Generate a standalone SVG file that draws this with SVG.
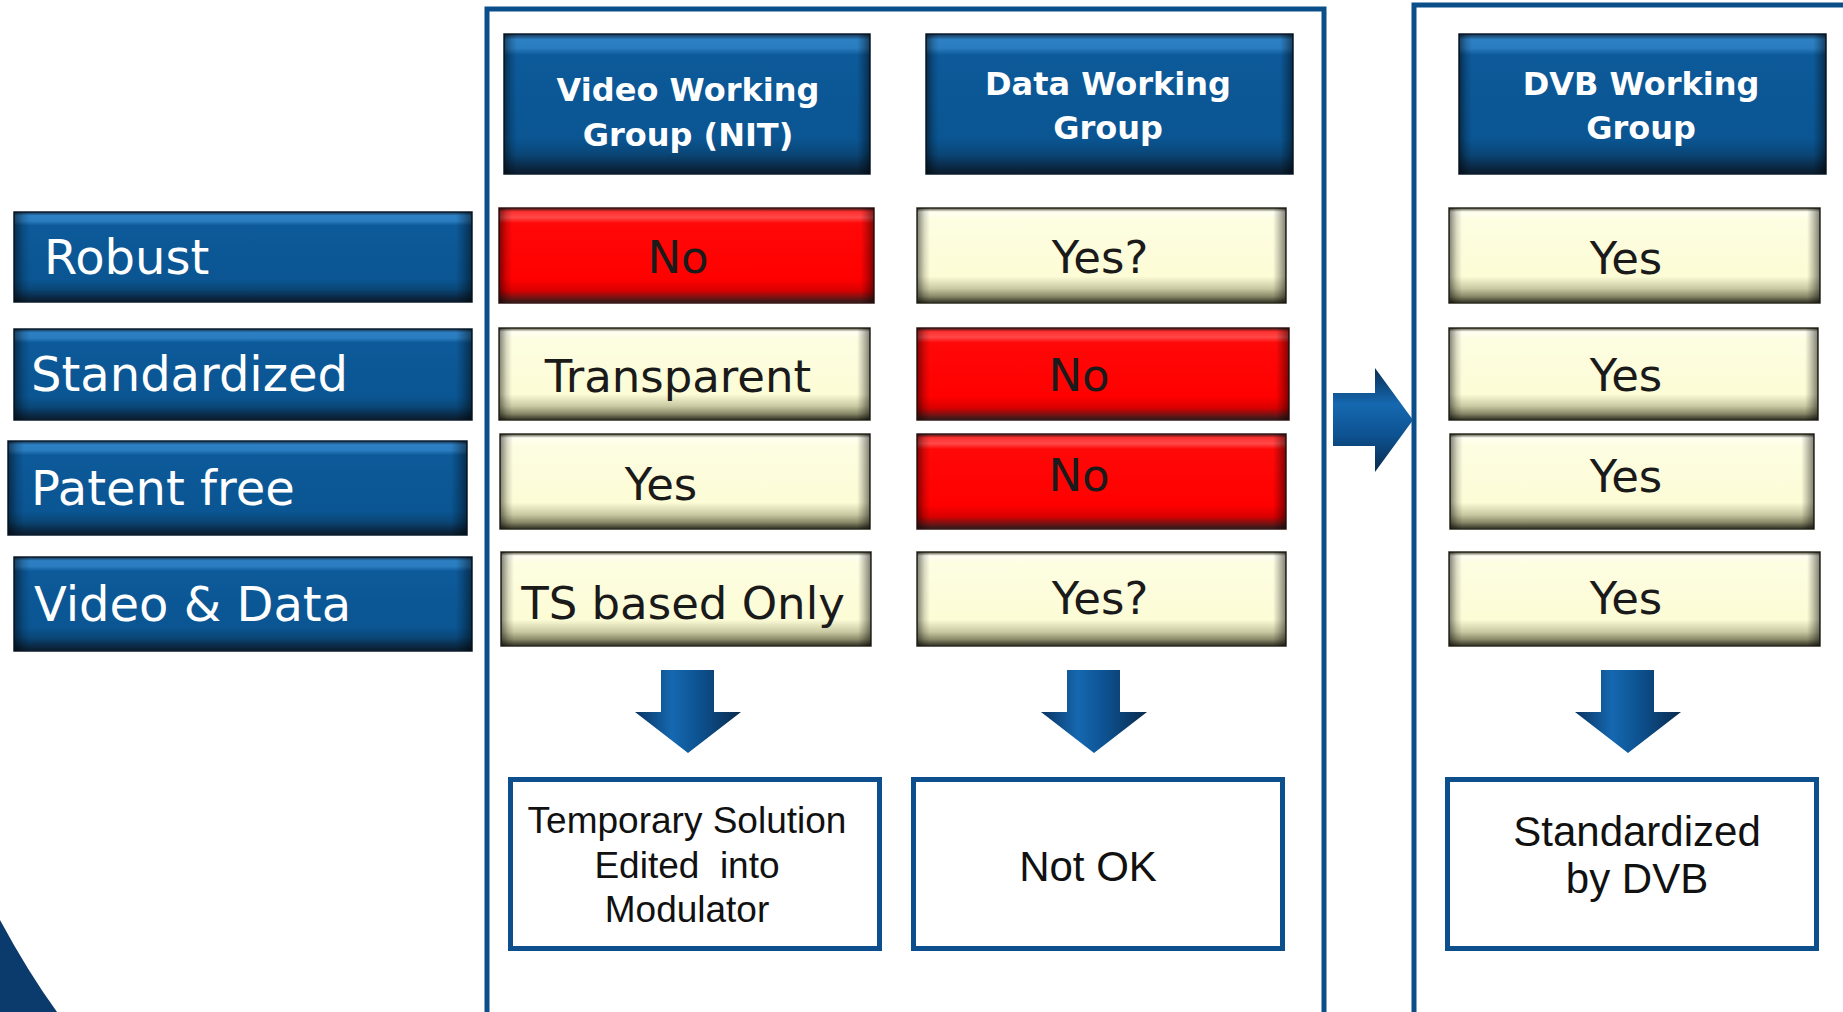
<svg xmlns="http://www.w3.org/2000/svg" width="1843" height="1012" viewBox="0 0 1843 1012">
<defs>
<linearGradient id="gBlue" x1="0" y1="0" x2="0" y2="1">
<stop offset="0" stop-color="#17324f"/>
<stop offset="0.04" stop-color="#2c80c3"/>
<stop offset="0.10" stop-color="#2a7dc0"/>
<stop offset="0.15" stop-color="#0d5a9a"/>
<stop offset="0.75" stop-color="#0a5592"/>
<stop offset="0.86" stop-color="#0a4676"/>
<stop offset="0.93" stop-color="#0a2f50"/>
<stop offset="1" stop-color="#0b1b2b"/>
</linearGradient>
<linearGradient id="gRed" x1="0" y1="0" x2="0" y2="1">
<stop offset="0" stop-color="#3a1515"/>
<stop offset="0.04" stop-color="#ff3030"/>
<stop offset="0.10" stop-color="#ff4848"/>
<stop offset="0.16" stop-color="#ff0808"/>
<stop offset="0.75" stop-color="#ff0000"/>
<stop offset="0.87" stop-color="#d80000"/>
<stop offset="0.94" stop-color="#7a1212"/>
<stop offset="1" stop-color="#2a1a1a"/>
</linearGradient>
<linearGradient id="gCream" x1="0" y1="0" x2="0" y2="1">
<stop offset="0" stop-color="#4a4a38"/>
<stop offset="0.04" stop-color="#fffff2"/>
<stop offset="0.12" stop-color="#fdfde2"/>
<stop offset="0.72" stop-color="#fcfcd6"/>
<stop offset="0.85" stop-color="#c8c8a2"/>
<stop offset="0.93" stop-color="#8a8a6a"/>
<stop offset="1" stop-color="#2e2e22"/>
</linearGradient>
<linearGradient id="gSide" x1="0" y1="0" x2="1" y2="0">
<stop offset="0" stop-color="#000" stop-opacity="0.5"/>
<stop offset="0.02" stop-color="#000" stop-opacity="0.15"/>
<stop offset="0.035" stop-color="#000" stop-opacity="0"/>
<stop offset="0.965" stop-color="#000" stop-opacity="0"/>
<stop offset="0.98" stop-color="#000" stop-opacity="0.2"/>
<stop offset="1" stop-color="#000" stop-opacity="0.5"/>
</linearGradient>
<linearGradient id="gArrowD" x1="0" y1="0" x2="1" y2="0">
<stop offset="0" stop-color="#0a3563"/>
<stop offset="0.35" stop-color="#1568b0"/>
<stop offset="0.6" stop-color="#0d5291"/>
<stop offset="1" stop-color="#0a2b4e"/>
</linearGradient>
<linearGradient id="gArrowR" x1="0" y1="0" x2="0" y2="1">
<stop offset="0" stop-color="#0a2f55"/>
<stop offset="0.35" stop-color="#1568b0"/>
<stop offset="0.65" stop-color="#0d5291"/>
<stop offset="1" stop-color="#0a2b4e"/>
</linearGradient>
<path id="downArrow" d="M-27,0 H26 V42 H53 L0,83 L-53,42 H-27 Z"/>
</defs>
<style>
.blue{fill:url(#gBlue);stroke:#0d1e30;stroke-width:1.5}
.red{fill:url(#gRed);stroke:#3a1a1a;stroke-width:1.5}
.cream{fill:url(#gCream);stroke:#2e2e22;stroke-width:1.5}
.side{fill:url(#gSide);stroke:none}
.lbl{font-family:"DejaVu Sans",Verdana,sans-serif;font-size:48px;fill:#ffffff}
.val{font-family:"DejaVu Sans",Verdana,sans-serif;font-size:45px;fill:#1a1a1a;text-anchor:middle}
.hdr{font-family:"DejaVu Sans",Verdana,sans-serif;font-size:32px;font-weight:bold;fill:#ffffff;text-anchor:middle}
.res{fill:#ffffff;stroke:#0d4f8c;stroke-width:5}
.rtxt{font-family:"Liberation Sans",Arial,sans-serif;fill:#111111;text-anchor:middle;white-space:pre}
.panel{fill:none;stroke:#0b4f8a;stroke-width:5}
.arr{fill:url(#gArrowD)}
</style>
<rect width="1843" height="1012" fill="#ffffff"/>
<path d="M0,920 Q28,972 57,1012 L0,1012 Z" fill="#0b3a6d"/>

<g id="panel-left"><rect class="panel" x="487" y="9" width="837" height="1012"/></g>
<g id="panel-right"><rect class="panel" x="1414" y="5" width="460" height="1012"/></g>

<g id="label-robust"><rect class="blue" x="14" y="212" width="458" height="90"/><rect class="side" x="14" y="212" width="458" height="90"/><text class="lbl" x="44" y="274">Robust</text></g>
<g id="label-standardized"><rect class="blue" x="14" y="329" width="458" height="91"/><rect class="side" x="14" y="329" width="458" height="91"/><text class="lbl" x="31" y="391">Standardized</text></g>
<g id="label-patent"><rect class="blue" x="8" y="441" width="459" height="94"/><rect class="side" x="8" y="441" width="459" height="94"/><text class="lbl" x="31" y="505">Patent free</text></g>
<g id="label-videodata"><rect class="blue" x="14" y="557" width="458" height="94"/><rect class="side" x="14" y="557" width="458" height="94"/><text class="lbl" x="34" y="621">Video &amp; Data</text></g>

<g id="hdr-video"><rect class="blue" x="504" y="34" width="366" height="140"/><rect class="side" x="504" y="34" width="366" height="140"/><text class="hdr" x="688" y="101">Video Working</text><text class="hdr" x="688" y="146">Group (NIT)</text></g>
<g id="video-robust"><rect class="red" x="499" y="208" width="375" height="95"/><rect class="side" x="499" y="208" width="375" height="95"/><text class="val" x="678" y="273">No</text></g>
<g id="video-standardized"><rect class="cream" x="499" y="328" width="371" height="92"/><rect class="side" x="499" y="328" width="371" height="92"/><text class="val" x="678" y="392">Transparent</text></g>
<g id="video-patent"><rect class="cream" x="500" y="434" width="370" height="95"/><rect class="side" x="500" y="434" width="370" height="95"/><text class="val" x="661" y="500">Yes</text></g>
<g id="video-videodata"><rect class="cream" x="501" y="552" width="370" height="94"/><rect class="side" x="501" y="552" width="370" height="94"/><text class="val" x="683" y="619">TS based Only</text></g>
<g id="video-result"><rect class="res" x="510.5" y="779.5" width="369" height="169"/><text class="rtxt" font-size="37" x="687" y="833">Temporary Solution</text><text class="rtxt" font-size="37" x="687" y="878">Edited  into</text><text class="rtxt" font-size="37" x="687" y="922">Modulator</text></g>

<g id="hdr-data"><rect class="blue" x="926" y="34" width="367" height="140"/><rect class="side" x="926" y="34" width="367" height="140"/><text class="hdr" x="1108" y="95">Data Working</text><text class="hdr" x="1108" y="139">Group</text></g>
<g id="data-robust"><rect class="cream" x="917" y="208" width="369" height="95"/><rect class="side" x="917" y="208" width="369" height="95"/><text class="val" x="1100" y="273">Yes?</text></g>
<g id="data-standardized"><rect class="red" x="917" y="328" width="372" height="92"/><rect class="side" x="917" y="328" width="372" height="92"/><text class="val" x="1079" y="391">No</text></g>
<g id="data-patent"><rect class="red" x="917" y="434" width="369" height="95"/><rect class="side" x="917" y="434" width="369" height="95"/><text class="val" x="1079" y="491">No</text></g>
<g id="data-videodata"><rect class="cream" x="917" y="552" width="369" height="94"/><rect class="side" x="917" y="552" width="369" height="94"/><text class="val" x="1100" y="614">Yes?</text></g>
<g id="data-result"><rect class="res" x="913.5" y="779.5" width="369" height="169"/><text class="rtxt" font-size="42" x="1088" y="881">Not OK</text></g>

<g id="hdr-dvb"><rect class="blue" x="1459" y="34" width="367" height="140"/><rect class="side" x="1459" y="34" width="367" height="140"/><text class="hdr" x="1641" y="95">DVB Working</text><text class="hdr" x="1641" y="139">Group</text></g>
<g id="dvb-robust"><rect class="cream" x="1449" y="208" width="371" height="95"/><rect class="side" x="1449" y="208" width="371" height="95"/><text class="val" x="1626" y="274">Yes</text></g>
<g id="dvb-standardized"><rect class="cream" x="1449" y="328" width="369" height="92"/><rect class="side" x="1449" y="328" width="369" height="92"/><text class="val" x="1626" y="391">Yes</text></g>
<g id="dvb-patent"><rect class="cream" x="1450" y="434" width="364" height="95"/><rect class="side" x="1450" y="434" width="364" height="95"/><text class="val" x="1626" y="492">Yes</text></g>
<g id="dvb-videodata"><rect class="cream" x="1449" y="552" width="371" height="94"/><rect class="side" x="1449" y="552" width="371" height="94"/><text class="val" x="1626" y="614">Yes</text></g>
<g id="dvb-result"><rect class="res" x="1447.5" y="779.5" width="369" height="169"/><text class="rtxt" font-size="42" x="1637" y="846">Standardized</text><text class="rtxt" font-size="42" x="1637" y="893">by DVB</text></g>

<g id="connectors">
<use href="#downArrow" class="arr" transform="translate(688,670)"/>
<use href="#downArrow" class="arr" transform="translate(1094,670)"/>
<use href="#downArrow" class="arr" transform="translate(1628,670)"/>
<path d="M1333,393 H1375 V368 L1413,420 L1375,472 V446 H1333 Z" fill="url(#gArrowR)"/>
</g>
</svg>
